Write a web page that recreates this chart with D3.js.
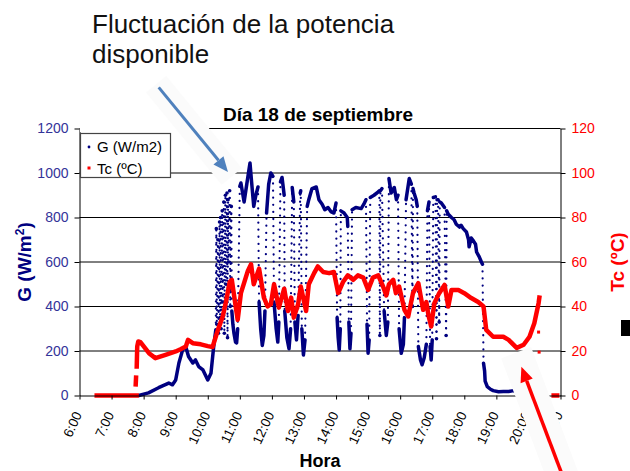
<!DOCTYPE html>
<html>
<head>
<meta charset="utf-8">
<script src="https://cdn.jsdelivr.net/npm/d3@7"></script>
<style>
  body { margin: 0; background: #fff; }
  text { font-family: "Liberation Sans", Arial, sans-serif; }
</style>
</head>
<body>
<div id="chart"></div>
<script>
// etiquetas del eje de horas
const horas = ["6:00", "7:00", "8:00", "9:00", "10:00", "11:00", "12:00", "13:00",
  "14:00", "15:00", "16:00", "17:00", "18:00", "19:00", "20:00", "21:00"];
const gTicks = [0, 200, 400, 600, 800, 1000, 1200];
const tcTicks = [0, 20, 40, 60, 80, 100, 120];

// irradiancia G (W/m2)
const gSerie = [
  ["7:51", 0], ["8:09", 12], ["8:28", 35], ["8:47", 56], ["8:54", 48], ["9:00", 70], ["9:06", 146],
  ["9:13", 205], ["9:19", 218], ["9:24", 175], ["9:32", 146], ["9:37", 160], ["9:43", 130],
  ["9:51", 115], ["10:00", 70], ["10:06", 100], ["10:11", 218], ["10:15", 295],
  ["10:16", 750], ["10:17", 320], ["10:19", 700], ["10:20", 280], ["10:22", 780], ["10:23", 350],
  ["10:24", 800], ["10:25", 300], ["10:27", 830], ["10:28", 420], ["10:30", 870], ["10:31", 280],
  ["10:33", 900], ["10:34", 500], ["10:36", 910], ["10:37", 260], ["10:38", 880], ["10:39", 600],
  ["10:41", 920], ["10:42", 400], ["10:44", 850], ["10:45", 380], ["10:47", 320], ["10:49", 280],
  ["10:52", 240], ["10:54", 236], ["10:56", 300],
  ["11:00", 940], ["11:02", 955], ["11:08", 870], ["11:13", 950], ["11:19", 1045], ["11:22", 960],
  ["11:26", 850], ["11:30", 900], ["11:34", 937],
  ["11:36", 420], ["11:39", 300], ["11:42", 225], ["11:45", 270], ["11:47", 380],
  ["11:50", 820], ["11:54", 950], ["11:58", 1000], ["12:02", 985],
  ["12:04", 420], ["12:08", 300], ["12:11", 240], ["12:13", 330],
  ["12:16", 960], ["12:19", 980], ["12:23", 900],
  ["12:24", 380], ["12:28", 260], ["12:32", 210], ["12:35", 300],
  ["12:38", 935], ["12:41", 870],
  ["12:43", 330], ["12:46", 250], ["12:49", 360],
  ["12:53", 910], ["12:54", 920],
  ["12:56", 300], ["12:59", 182], ["13:02", 250],
  ["13:06", 850], ["13:09", 880], ["13:15", 930], ["13:23", 937], ["13:28", 880], ["13:34", 860],
  ["13:39", 835], ["13:45", 845], ["13:51", 825], ["13:56", 820], ["14:00", 865],
  ["14:02", 350], ["14:04", 260], ["14:06", 205], ["14:08", 300],
  ["14:09", 830], ["14:15", 820], ["14:21", 800], ["14:22", 760],
  ["14:24", 330], ["14:26", 210], ["14:28", 280],
  ["14:30", 835], ["14:37", 845], ["14:47", 840], ["14:52", 860], ["14:56", 880],
  ["14:58", 320], ["15:00", 190], ["15:02", 250],
  ["15:04", 890], ["15:11", 900], ["15:19", 915], ["15:21", 920], ["15:22", 270], ["15:23", 920],
  ["15:26", 930],
  ["15:30", 380], ["15:34", 270], ["15:37", 330],
  ["15:39", 975], ["15:43", 910], ["15:49", 935], ["15:53", 880], ["15:56", 900],
  ["15:58", 300], ["16:02", 190], ["16:06", 230], ["16:08", 350],
  ["16:11", 880], ["16:17", 975], ["16:21", 950], ["16:23", 400], ["16:24", 930], ["16:26", 910],
  ["16:30", 880], ["16:32", 850],
  ["16:34", 220], ["16:38", 160], ["16:41", 138], ["16:45", 170], ["16:49", 230],
  ["16:51", 830], ["16:54", 870],
  ["16:56", 220], ["16:58", 160], ["17:00", 250],
  ["17:02", 890], ["17:06", 893], ["17:08", 255], ["17:09", 880], ["17:11", 880], ["17:13", 330],
  ["17:14", 870], ["17:17", 865], ["17:23", 845], ["17:26", 270], ["17:27", 830], ["17:30", 815],
  ["17:36", 800], ["17:41", 790], ["17:45", 770], ["17:51", 757], ["17:54", 765], ["17:58", 750],
  ["18:04", 735], ["18:08", 700], ["18:09", 668], ["18:13", 708], ["18:17", 695], ["18:21", 680],
  ["18:23", 645], ["18:28", 623], ["18:32", 600], ["18:34", 590],
  ["18:36", 145], ["18:38", 110], ["18:39", 65], ["18:43", 40], ["18:49", 28], ["18:54", 22],
  ["19:04", 17], ["19:13", 18], ["19:23", 18], ["19:32", 22], ["19:34", 20]
];

// temperatura de celula Tc (ºC); null = hueco en el registro
const tcSerie = [
  ["6:28", 0], ["7:51", 0], ["7:51", null],
  ["7:45", 4], ["7:46", 9], ["7:46", null],
  ["7:47", 12], ["7:48", 22], ["7:50", 24.3], ["7:54", 24], ["8:10", 19], ["8:22", 16.8],
  ["8:41", 18.3], ["9:00", 19.8], ["9:09", 20.8], ["9:19", 22], ["9:23", 25], ["9:32", 23.5],
  ["9:47", 23], ["10:00", 22.2], ["10:09", 21.8], ["10:19", 29.5], ["10:28", 35.5], ["10:34", 42],
  ["10:41", 51], ["10:45", 52], ["10:51", 42], ["10:56", 34], ["11:02", 46], ["11:15", 56],
  ["11:21", 59], ["11:26", 50], ["11:36", 57], ["11:45", 44], ["11:52", 40], ["11:58", 41],
  ["12:04", 50], ["12:13", 39.5], ["12:23", 48], ["12:30", 38], ["12:36", 44], ["12:41", 35],
  ["12:49", 41], ["12:54", 49], ["13:04", 38], ["13:09", 50], ["13:19", 55], ["13:26", 58],
  ["13:36", 55.5], ["13:47", 55], ["13:56", 55.5], ["14:04", 46], ["14:13", 51], ["14:22", 54],
  ["14:32", 52], ["14:41", 54], ["14:51", 53], ["15:00", 47.5], ["15:09", 53], ["15:19", 54],
  ["15:28", 49], ["15:34", 45], ["15:39", 50], ["15:47", 52], ["15:52", 46], ["15:58", 49],
  ["16:08", 38.5], ["16:15", 35.5], ["16:24", 46], ["16:34", 50.5], ["16:43", 38.5], ["16:49", 42],
  ["16:53", 36], ["16:58", 31], ["17:04", 41.5], ["17:13", 46], ["17:23", 49.7], ["17:30", 40],
  ["17:36", 47.4], ["17:49", 47.4], ["18:00", 46], ["18:13", 43.8], ["18:26", 42], ["18:36", 40],
  ["18:41", 29.5], ["18:54", 26.4], ["19:13", 26.4], ["19:23", 25], ["19:38", 21.4], ["19:51", 22.8],
  ["20:02", 26.4], ["20:11", 32.5], ["20:19", 41.5], ["20:21", 45], ["20:21", null],
  ["20:43", 0], ["20:58", 0]
];
const tcSueltos = [["20:19", 28.5], ["20:20", 19.5]];

const width = 630, height = 471;
const azul = "#000080", rojo = "#FF0000";

const aHora = (s) => {
  const [h, m] = s.split(":");
  return +h + m / 60;
};

const svg = d3.select("#chart").append("svg")
  .attr("width", width)
  .attr("height", height);

svg.append("rect").attr("width", width).attr("height", height).attr("fill", "#fff");

const x = d3.scaleLinear().domain([6, 21]).range([79.5, 560.5]);
const yG = d3.scaleLinear().domain([0, 1200]).range([395.5, 128.5]);
const yT = d3.scaleLinear().domain([0, 120]).range([395.5, 128.5]);

// lineas de division
svg.append("g")
  .selectAll("line")
  .data(gTicks.slice(1))
  .join("line")
  .attr("x1", x(6)).attr("x2", x(21))
  .attr("y1", (d) => yG(d)).attr("y2", (d) => yG(d))
  .attr("stroke", "#000")
  .attr("stroke-width", 1);

// serie G: tramos densos en trazo continuo, saltos rapidos como puntos sueltos
const gPts = gSerie.map((d) => [x(aHora(d[0])), yG(d[1]), d[1]]);
const tramos = [], saltos = [];
let tramo = [gPts[0]];
for (let i = 1; i < gPts.length; i++) {
  const a = gPts[i - 1], b = gPts[i];
  if (Math.abs(b[2] - a[2]) > 150) {
    saltos.push([a, b]);
    tramos.push(tramo);
    tramo = [b];
  } else {
    tramo.push(b);
  }
}
tramos.push(tramo);

const gCapa = svg.append("g");
gCapa.selectAll("line")
  .data(saltos)
  .join("line")
  .attr("x1", (d) => d[0][0]).attr("y1", (d) => d[0][1])
  .attr("x2", (d) => d[1][0]).attr("y2", (d) => d[1][1])
  .attr("stroke", azul)
  .attr("stroke-width", 2.2)
  .attr("stroke-linecap", "round")
  .attr("stroke-dasharray", "0.1 7");

const lineaG = d3.line().x((d) => d[0]).y((d) => d[1]);
gCapa.selectAll("path")
  .data(tramos.filter((t) => t.length > 1))
  .join("path")
  .attr("d", lineaG)
  .attr("fill", "none")
  .attr("stroke", azul)
  .attr("stroke-width", 3.5)
  .attr("stroke-linejoin", "round")
  .attr("stroke-linecap", "round");
gCapa.selectAll("circle")
  .data(tramos.filter((t) => t.length === 1))
  .join("circle")
  .attr("cx", (d) => d[0][0]).attr("cy", (d) => d[0][1])
  .attr("r", 1.8)
  .attr("fill", azul);

// serie Tc
const lineaT = d3.line()
  .defined((d) => d[1] !== null)
  .x((d) => x(aHora(d[0])))
  .y((d) => yT(d[1]));
svg.append("path")
  .datum(tcSerie)
  .attr("d", lineaT)
  .attr("fill", "none")
  .attr("stroke", rojo)
  .attr("stroke-width", 4.5)
  .attr("stroke-linejoin", "round");
svg.append("g")
  .selectAll("rect")
  .data(tcSueltos)
  .join("rect")
  .attr("x", (d) => x(aHora(d[0])) - 1.5)
  .attr("y", (d) => yT(d[1]) - 1.5)
  .attr("width", 3).attr("height", 3)
  .attr("fill", rojo);

// ejes
const ejeIzq = svg.append("g")
  .attr("transform", `translate(${x(6)},0)`)
  .call(d3.axisLeft(yG).tickValues(gTicks).tickFormat(d3.format("d"))
    .tickSize(5).tickSizeOuter(0).tickPadding(6));
ejeIzq.attr("font-family", null);
ejeIzq.selectAll("text").attr("fill", "#333399").attr("font-size", 14);

const ejeDer = svg.append("g")
  .attr("transform", `translate(${x(21)},0)`)
  .call(d3.axisRight(yT).tickValues(tcTicks).tickFormat(d3.format("d"))
    .tickSize(5).tickSizeOuter(0).tickPadding(6));
ejeDer.attr("font-family", null);
ejeDer.selectAll("text").attr("fill", rojo).attr("font-size", 14);

const ejeX = svg.append("g")
  .attr("transform", `translate(0,${yG(0)})`)
  .call(d3.axisBottom(x)
    .tickValues(horas.map(aHora))
    .tickFormat((d, i) => horas[i])
    .tickSize(4)
    .tickSizeOuter(0));
ejeX.attr("font-family", null);
ejeX.selectAll(".tick text")
  .attr("y", 0)
  .attr("dy", "0.35em")
  .attr("transform", "translate(-2,17) rotate(-65)")
  .attr("text-anchor", "end")
  .attr("font-size", 13.5)
  .attr("fill", "#000");

// titulos
svg.append("text")
  .attr("x", 318).attr("y", 121)
  .attr("text-anchor", "middle")
  .attr("font-size", 19).attr("font-weight", "bold")
  .text("Día 18 de septiembre");

svg.append("text")
  .attr("x", 320).attr("y", 467)
  .attr("text-anchor", "middle")
  .attr("font-size", 18).attr("font-weight", "bold")
  .text("Hora");

const tituloG = svg.append("text")
  .attr("transform", "translate(31,262) rotate(-90)")
  .attr("text-anchor", "middle")
  .attr("font-size", 19).attr("font-weight", "bold")
  .attr("fill", azul);
tituloG.append("tspan").text("G (W/m");
tituloG.append("tspan").attr("baseline-shift", "super").attr("font-size", 12).text("2");
tituloG.append("tspan").text(")");

svg.append("text")
  .attr("transform", "translate(624,262) rotate(-90)")
  .attr("text-anchor", "middle")
  .attr("font-size", 19).attr("font-weight", "bold")
  .attr("fill", rojo)
  .text("Tc (ºC)");

svg.append("rect")
  .attr("x", 621).attr("y", 320).attr("width", 9).attr("height", 16)
  .attr("fill", "#000");

// leyenda
svg.append("rect")
  .attr("x", 80).attr("y", 125).attr("width", 96).attr("height", 7)
  .attr("fill", "#fff");
const ley = svg.append("g");
ley.append("rect")
  .attr("x", 80.5).attr("y", 133.5).attr("width", 90).attr("height", 44)
  .attr("fill", "#fff").attr("stroke", "#444").attr("stroke-width", 1.2);
ley.append("circle").attr("cx", 89).attr("cy", 147).attr("r", 1.4).attr("fill", azul);
ley.append("text").attr("x", 97).attr("y", 152).attr("font-size", 15).text("G (W/m2)");
ley.append("rect").attr("x", 87.5).attr("y", 166.5).attr("width", 3).attr("height", 3).attr("fill", rojo);
ley.append("text").attr("x", 97).attr("y", 174).attr("font-size", 15).text("Tc (ºC)");

// anotaciones con flechas
function flecha(p1, p2, color, ancho, halo, extra) {
  const dx = p2[0] - p1[0], dy = p2[1] - p1[1];
  const L = Math.hypot(dx, dy), ux = dx / L, uy = dy / L;
  const g = svg.append("g");
  g.append("line")
    .attr("x1", p1[0] - ux * extra[0]).attr("y1", p1[1] - uy * extra[0])
    .attr("x2", p2[0] + ux * extra[1]).attr("y2", p2[1] + uy * extra[1])
    .attr("stroke", "#fbfbfb").attr("stroke-width", halo);
  // la punta esta en p1
  const largo = 15, semi = 6.5;
  const bx = p1[0] + ux * largo, by = p1[1] + uy * largo;
  g.append("line")
    .attr("x1", bx).attr("y1", by).attr("x2", p2[0]).attr("y2", p2[1])
    .attr("stroke", color).attr("stroke-width", ancho);
  g.append("polygon")
    .attr("points", [[p1[0], p1[1]], [bx - uy * semi, by + ux * semi], [bx + uy * semi, by - ux * semi]].join(" "))
    .attr("fill", color);
}
flecha([x(10.63), yG(1005)], [x(8.47), yG(1385)], "#4F81BD", 3, 26, [6, 4]);
flecha([x(19.78), yT(12.9)], [x(21.35), yT(-47)], rojo, 3.5, 32, [15, 10]);

svg.append("text")
  .attr("x", 92).attr("y", 33)
  .attr("font-size", 26).attr("fill", "#111")
  .text("Fluctuación de la potencia");
svg.append("text")
  .attr("x", 92).attr("y", 63)
  .attr("font-size", 26).attr("fill", "#111")
  .text("disponible");
</script>
</body>
</html>
